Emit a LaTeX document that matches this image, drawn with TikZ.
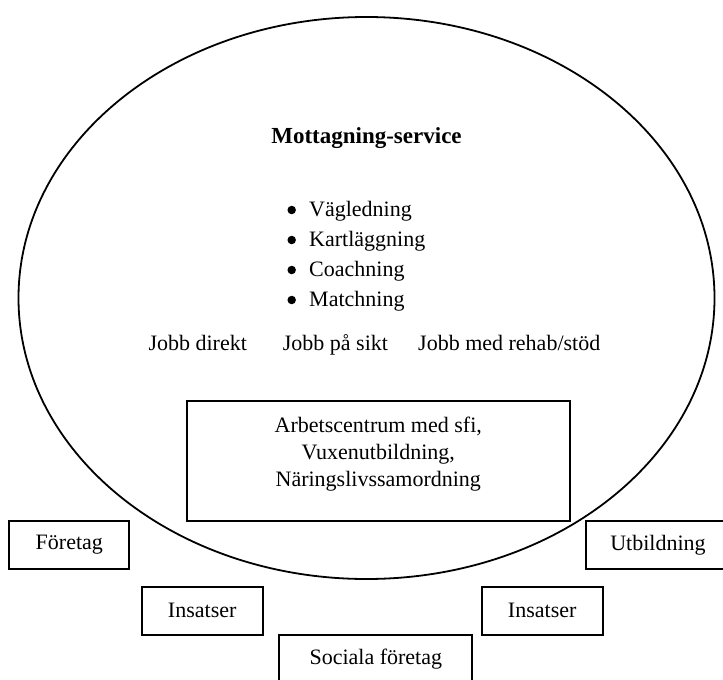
\documentclass[tikz,border=0pt]{standalone}
\usepackage{fontspec}
\setmainfont{Liberation Serif}
\begin{document}
\begin{tikzpicture}[x=1pt,y=-1pt,
  box/.style={draw, line width=1.8pt, inner sep=0pt, font=\fontsize{22}{27}\selectfont},
  lbl/.style={inner sep=0pt, font=\fontsize{22}{27}\selectfont},
  dot/.style={circle, fill, inner sep=0pt, minimum size=8.5pt},
  ttl/.style={inner sep=0pt, font=\fontsize{23}{27}\selectfont\bfseries}]
\useasboundingbox (0,0) rectangle (723,680);
\clip (0,0) rectangle (723,680);
\draw[line width=1.8pt] (366.5,298) ellipse [x radius=348, y radius=281];
% title and bullets
\node[ttl, anchor=base] (title) at (366.5,143) {Mottagning-service};
\node[dot] (b1) at (291.7,210) {};
\node[lbl, anchor=base west] (i1) at (309,216.7) {Vägledning};
\node[dot] (b2) at (291.7,240) {};
\node[lbl, anchor=base west] (i2) at (309,246.7) {Kartläggning};
\node[dot] (b3) at (291.7,270) {};
\node[lbl, anchor=base west] (i3) at (309,276.7) {Coachning};
\node[dot] (b4) at (291.7,300) {};
\node[lbl, anchor=base west] (i4) at (309,306.7) {Matchning};
% jobb line
\node[lbl, anchor=base west] (j1) at (148.3,350) {Jobb direkt};
\node[lbl, anchor=base west] (j2) at (282.7,350) {Jobb på sikt};
\node[lbl, anchor=base west] (j3) at (418,350) {Jobb med rehab/stöd};
% central box
\node[box, minimum width=383.3pt, minimum height=119.7pt] (arb) at (378.3,460.8) {};
\node[lbl, align=center, anchor=north] (arbtxt) at (378.3,417) {Arbetscentrum med sfi,\\Vuxenutbildning,\\Näringslivssamordning};
% outer boxes
\node[box, minimum width=120pt, minimum height=48pt] (foretag) at (69.3,545) {Företag};
\node[box, minimum width=144.6pt, minimum height=48pt] (utb) at (658,545) {Utbildning};
\node[box, minimum width=121pt, minimum height=48.3pt] (ins1) at (202.2,610.8) {Insatser};
\node[box, minimum width=121pt, minimum height=48.3pt] (ins2) at (542.2,610.8) {Insatser};
\node[box, minimum width=193pt, minimum height=48pt] (soc) at (375.8,659) {Sociala företag};
\end{tikzpicture}
\end{document}
